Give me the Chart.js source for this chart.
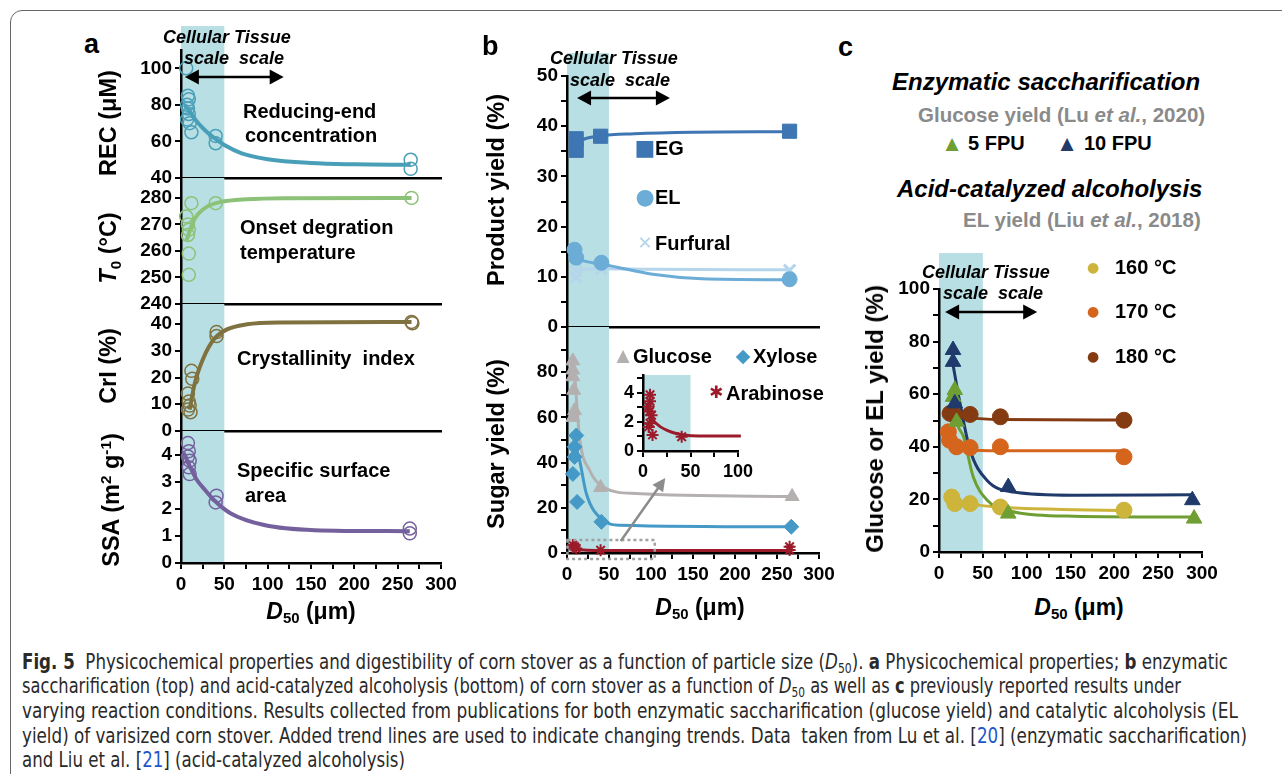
<!DOCTYPE html>
<html>
<head>
<meta charset="utf-8">
<script src="https://cdn.jsdelivr.net/npm/chart.js@4.4.1/dist/chart.umd.min.js"></script>
<style>
body { margin: 0; width: 1282px; height: 774px; overflow: hidden; background: #fff; position: relative;
       font-family: "Liberation Sans", Arial, sans-serif; }
canvas { position: absolute; }
.frame { position: absolute; left: 10px; top: 10px; width: 1320px; height: 820px; border: 1px solid #666; border-radius: 12px; }
.t { position: absolute; white-space: nowrap; line-height: 1; transform: translateY(-50%); font-weight: bold; color: #000; z-index: 5; }
.v { position: absolute; white-space: nowrap; line-height: 1; transform: translate(-50%, -50%) rotate(-90deg); font-weight: bold; font-size: 23.5px; z-index: 5; }
.c { position: absolute; white-space: nowrap; line-height: 1; transform: translate(-50%, -50%); font-family: "DejaVu Sans", sans-serif; z-index: 5; }
.it { font-style: italic; }
.gray { color: #8a8a8a; }
sub { font-size: 0.65em; vertical-align: -0.3em; line-height: 0; }
sup { font-size: 0.65em; vertical-align: 0.55em; line-height: 0; }
.cap { position: absolute; left: 22px; white-space: nowrap; line-height: 1; color: #2a2a2a; font-size: 20.5px;
       font-family: "Liberation Sans Narrow", "DejaVu Sans Condensed", sans-serif; transform-origin: left center; }
.lk { color: #2255cc; }
</style>
</head>
<body>
<div class="frame"></div>

<!-- panel a texts -->
<div class="t" style="left:84px;top:44px;font-size:27px">a</div>
<div class="t it" style="left:163px;top:37px;font-size:18px">Cellular Tissue</div>
<div class="t it" style="left:184px;top:58px;font-size:18px">scale&nbsp; scale</div>
<div class="t" style="left:243px;top:111px;font-size:20px">Reducing-end</div>
<div class="t" style="left:245px;top:135px;font-size:20px">concentration</div>
<div class="t" style="left:240px;top:227px;font-size:20px">Onset degration</div>
<div class="t" style="left:240px;top:252px;font-size:20px">temperature</div>
<div class="t" style="left:237px;top:358px;font-size:20px">Crystallinity&nbsp; index</div>
<div class="t" style="left:237px;top:470px;font-size:20px">Specific surface</div>
<div class="t" style="left:245px;top:495px;font-size:20px">area</div>
<div class="v" style="left:109px;top:123px">REC (μM)</div>
<div class="v" style="left:109px;top:248px"><i>T</i><sub>0</sub> (°C)</div>
<div class="v" style="left:109px;top:366px">CrI (%)</div>
<div class="v" style="left:112px;top:500px">SSA (m<sup>2</sup> g<sup>-1</sup>)</div>
<div class="c" style="left:311px;top:611px;font-size:23px;font-family:'Liberation Sans';font-weight:bold"><i>D</i><sub>50</sub> (μm)</div>

<!-- panel b texts -->
<div class="t" style="left:482px;top:46px;font-size:27px">b</div>
<div class="t it" style="left:550px;top:58px;font-size:18px">Cellular Tissue</div>
<div class="t it" style="left:570px;top:80px;font-size:18px">scale&nbsp; scale</div>
<div class="c" style="left:645px;top:148px;font-size:22px;color:#3e76b3">■</div>
<div class="t" style="left:655px;top:148px;font-size:20px">EG</div>
<div class="c" style="left:645px;top:197px;font-size:22px;color:#6badd6">●</div>
<div class="t" style="left:655px;top:197px;font-size:20px">EL</div>
<div class="c" style="left:645px;top:243px;font-size:18px;color:#b5d5ea;font-weight:bold">✕</div>
<div class="t" style="left:655px;top:243px;font-size:20px">Furfural</div>
<div class="c" style="left:623px;top:355px;font-size:17px;color:#b5b0b0">▲</div>
<div class="t" style="left:633px;top:356px;font-size:20px">Glucose</div>
<div class="c" style="left:743px;top:355px;font-size:19px;color:#4599c6">◆</div>
<div class="t" style="left:753px;top:356px;font-size:20px">Xylose</div>
<div class="c" style="left:716px;top:392px;font-size:17px;color:#9b1b2b">✱</div>
<div class="t" style="left:726px;top:393px;font-size:20px">Arabinose</div>
<div class="v" style="left:497px;top:190px">Product yield (%)</div>
<div class="v" style="left:497px;top:444px">Sugar yield (%)</div>
<div class="c" style="left:700px;top:607px;font-size:23px;font-family:'Liberation Sans';font-weight:bold"><i>D</i><sub>50</sub> (μm)</div>

<!-- panel c texts -->
<div class="t" style="left:838px;top:47px;font-size:27px">c</div>
<div class="t it" style="left:892px;top:82px;font-size:24px">Enzymatic saccharification</div>
<div class="t gray" style="left:918px;top:115px;font-size:20.5px">Glucose yield (Lu <i>et al.</i>, 2020)</div>
<div class="c" style="left:952px;top:143px;font-size:17px;color:#6f9f33">▲</div>
<div class="t" style="left:968px;top:143px;font-size:20px">5 FPU</div>
<div class="c" style="left:1067px;top:143px;font-size:17px;color:#1f3a6b">▲</div>
<div class="t" style="left:1084px;top:143px;font-size:20px">10 FPU</div>
<div class="t it" style="left:897px;top:189px;font-size:24px">Acid-catalyzed alcoholysis</div>
<div class="t gray" style="left:963px;top:220px;font-size:20.5px">EL yield (Liu <i>et al.</i>, 2018)</div>
<div class="c" style="left:1093px;top:267px;font-size:14px;color:#cdb43b">●</div>
<div class="t" style="left:1115px;top:267px;font-size:20px">160 °C</div>
<div class="c" style="left:1093px;top:311px;font-size:14px;color:#d5641d">●</div>
<div class="t" style="left:1115px;top:311px;font-size:20px">170 °C</div>
<div class="c" style="left:1093px;top:356px;font-size:14px;color:#853b12">●</div>
<div class="t" style="left:1115px;top:356px;font-size:20px">180 °C</div>
<div class="t it" style="left:922px;top:272px;font-size:18px">Cellular Tissue</div>
<div class="t it" style="left:943px;top:293px;font-size:18px">scale&nbsp; scale</div>
<div class="v" style="left:875px;top:419px;font-size:24px">Glucose or EL yield (%)</div>
<div class="c" style="left:1079px;top:607px;font-size:23px;font-family:'Liberation Sans';font-weight:bold"><i>D</i><sub>50</sub> (μm)</div>

<!-- caption -->
<div class="cap" data-w="1206" style="top:662px"><b>Fig. 5</b>&nbsp; Physicochemical properties and digestibility of corn stover as a function of particle size (<i>D</i><sub>50</sub>). <b>a</b> Physicochemical properties; <b>b</b> enzymatic</div>
<div class="cap" data-w="1159" style="top:686px">saccharification (top) and acid-catalyzed alcoholysis (bottom) of corn stover as a function of <i>D</i><sub>50</sub> as well as <b>c</b> previously reported results under</div>
<div class="cap" data-w="1216" style="top:711px">varying reaction conditions. Results collected from publications for both enzymatic saccharification (glucose yield) and catalytic alcoholysis (EL</div>
<div class="cap" data-w="1225" style="top:736px">yield) of varisized corn stover. Added trend lines are used to indicate changing trends. Data&nbsp; taken from Lu et al. [<span class="lk">20</span>] (enzymatic saccharification)</div>
<div class="cap" data-w="383" style="top:760px">and Liu et al. [<span class="lk">21</span>] (acid-catalyzed alcoholysis)</div>

<script>
// ---------- data ----------
// panel a: reducing-end concentration
const recD = [6, 8, 9, 7, 8, 9, 7, 10, 12, 40, 40, 265, 265];
const recV = [100, 85, 83, 80, 78, 75, 72, 70, 65, 63, 59, 50, 45];
const recFitD = [4, 10, 18, 28, 38, 50, 70, 100, 150, 200, 265];
const recFitV = [80, 76.5, 71, 66, 62, 58, 53.5, 50.3, 48.2, 47.5, 47.2];
// onset degradation temperature
const t0D = [12, 40, 6, 8, 9, 8, 9, 9, 266];
const t0V = [278, 278, 273, 270, 268, 266, 259, 251, 280];
const t0FitD = [6.5, 10, 14, 20, 30, 45, 76, 120, 266];
const t0FitV = [264, 267.5, 271, 274, 276.7, 278.4, 279.5, 279.9, 280];
// crystallinity index
const criD = [266, 267, 41, 41, 12, 13, 8, 9, 10, 11, 8];
const criV = [40.8, 40.3, 37, 35.5, 22.5, 19.5, 14, 11, 9.5, 7, 8];
const criFitD = [10, 16, 26, 38, 53, 76, 115, 266];
const criFitV = [8, 18, 27.4, 34.3, 38, 39.9, 40.6, 40.8];
// specific surface area
const ssaD = [8, 9, 8, 10, 9, 10, 41, 40, 264, 264];
const ssaV = [4.45, 4.15, 3.95, 3.8, 3.55, 3.3, 2.5, 2.25, 1.28, 1.1];
const ssaFitD = [3, 10, 18, 28, 38, 57, 96, 154, 264];
const ssaFitV = [4.1, 3.6, 3.1, 2.7, 2.34, 1.85, 1.41, 1.22, 1.18];

// panel b top: product yield
const egD = [11, 11, 40, 265];
const egV = [37.5, 35.2, 38, 39];
const egFitD = [8, 12, 20, 40, 80, 150, 265];
const egFitV = [35.5, 36.6, 37.4, 38.1, 38.5, 38.8, 38.9];
const elD = [9, 11, 41, 265];
const elV = [15.4, 13.8, 12.8, 9.5];
const elFitD = [8, 15, 30, 51, 102, 161, 265];
const elFitV = [14.5, 13.5, 12.8, 12.2, 10.5, 9.6, 9.4];
const furD = [11, 11, 41, 265];
const furV = [11.2, 9.9, 11.5, 11.3];
const furFitD = [8, 20, 40, 100, 265];
const furFitV = [11.2, 11.5, 11.6, 11.5, 11.4];
// panel b bottom: sugar yield
const gluD = [7, 7, 7, 8, 9, 7, 40, 268];
const gluV = [85, 81, 78, 72, 63, 60, 29, 25];
const gluFitD = [9, 15, 27, 43, 82, 268];
const gluFitV = [80, 51, 36.5, 29.2, 26.3, 25];
const xylD = [11, 9, 9, 7, 12, 41, 267];
const xylV = [52, 47, 42.5, 35, 22.6, 13.8, 11.6];
const xylFitD = [8, 15, 23, 43, 63, 267];
const xylFitV = [50, 41, 26.3, 14.5, 12.3, 11.6];
const araD = [7, 9, 11, 40, 265, 265];
const araV = [3.5, 2.8, 2, 1.2, 2.8, 1.3];
const araFitD = [5, 20, 40, 265];
const araFitV = [2, 1.3, 1.1, 1.1];
// inset: arabinose
const insD = [7.4, 7.4, 6, 7, 9, 7.4, 6, 10, 40.7];
const insV = [3.85, 3.4, 3.05, 2.7, 2.45, 1.9, 1.65, 1.1, 0.98];
const insFitD = [4, 10, 18, 26, 35, 45, 60, 80, 103];
const insFitV = [2.8, 2.15, 1.67, 1.4, 1.2, 1.08, 1.03, 1.02, 1.02];

// panel c
const fpu10D = [16, 16, 18, 79, 289];
const fpu10V = [76.8, 72.3, 56.5, 24.7, 19.7];
const fpu10FitD = [14.5, 24, 35.5, 54.6, 85, 153, 289];
const fpu10FitV = [74, 56.5, 38.7, 27.3, 22.8, 21.6, 21.8];
const fpu5D = [18, 16, 20, 79, 291];
const fpu5V = [61.6, 59, 49.5, 14.6, 12.7];
const fpu5FitD = [17, 20, 28, 39, 55, 77, 154, 291];
const fpu5FitV = [58, 50, 43.8, 28.6, 19.7, 15.9, 13.6, 13.3];
const t180D = [12.6, 18, 35.5, 70, 211];
const t180V = [52.7, 52, 52.3, 51.4, 50.1];
const t180FitD = [10, 35, 70, 211];
const t180FitV = [52.5, 51, 50.4, 50.2];
const t170D = [10.7, 12, 20, 35.5, 70, 211];
const t170V = [45.7, 42.5, 40, 39.7, 40, 36.2];
const t170FitD = [10, 18, 30, 70, 211];
const t170FitV = [44, 40, 38.8, 38.5, 38.5];
const t160D = [14.5, 18, 35.5, 70, 211];
const t160V = [20.9, 18.4, 18.4, 17.1, 15.9];
const t160FitD = [10, 35, 70, 140, 211];
const t160FitV = [20, 18.3, 17, 16.2, 15.8];

// ---------- setup ----------
Chart.defaults.font.family = '"Liberation Sans", Arial, sans-serif';
Chart.defaults.font.weight = 'bold';
Chart.defaults.font.size = 19;
Chart.defaults.color = '#000';

const BAND = '#b8e0e4';

const pts = (xs, ys) => xs.map((x, i) => ({x: x, y: ys[i]}));

function marks(xs, ys, color, style, r, filled, bw) {
  return {data: pts(xs, ys), showLine: false, pointStyle: style, pointRadius: r, pointHoverRadius: r,
    borderColor: color, backgroundColor: filled ? color : 'rgba(0,0,0,0)',
    pointBorderWidth: bw || 1.5, clip: false};
}
function trend(xs, ys, color, w) {
  return {data: pts(xs, ys), showLine: true, pointRadius: 0, borderColor: color, borderWidth: w,
    cubicInterpolationMode: 'monotone', clip: false};
}

function drawArrow(ctx, x0, y0, x1, y1, color, w, both, L, H) {
  const a = Math.atan2(y1 - y0, x1 - x0), c = Math.cos(a), s = Math.sin(a);
  ctx.save();
  ctx.strokeStyle = color; ctx.fillStyle = color; ctx.lineWidth = w;
  ctx.beginPath();
  ctx.moveTo(both ? x0 + c * L * 0.8 : x0, both ? y0 + s * L * 0.8 : y0);
  ctx.lineTo(x1 - c * L * 0.8, y1 - s * L * 0.8);
  ctx.stroke();
  const head = (tx, ty, cc, ss) => {
    ctx.beginPath();
    ctx.moveTo(tx, ty);
    ctx.lineTo(tx - cc * L - ss * H / 2, ty - ss * L + cc * H / 2);
    ctx.lineTo(tx - cc * L + ss * H / 2, ty - ss * L - cc * H / 2);
    ctx.closePath(); ctx.fill();
  };
  head(x1, y1, c, s);
  if (both) head(x0, y0, -c, -s);
  ctx.restore();
}

// shaded band, scale arrows and the dotted zoom box
const deco = {
  id: 'deco',
  beforeDraw(chart, args, o) {
    if (!o.band) return;
    const {ctx, chartArea: a, scales: {x}} = chart;
    const x0 = x.getPixelForValue(0), x1 = x.getPixelForValue(50);
    ctx.save();
    ctx.fillStyle = BAND;
    ctx.fillRect(x0, a.top - o.bandUp, x1 - x0, a.bottom - a.top + o.bandUp);
    ctx.restore();
  },
  afterDraw(chart, args, o) {
    const {ctx, scales: {x, y}} = chart;
    if (o.scaleArrow) {
      const p = o.scaleArrow;
      drawArrow(ctx, x.getPixelForValue(p[0]), y.getPixelForValue(p[2]),
                x.getPixelForValue(p[1]), y.getPixelForValue(p[2]), '#000', 2.5, true, 14, 15);
    }
    if (o.box) {
      const b = o.box;
      ctx.save();
      ctx.strokeStyle = '#a0a0a0'; ctx.lineWidth = 2.5; ctx.setLineDash([3, 3]);
      const bx0 = x.getPixelForValue(b[0]), bx1 = x.getPixelForValue(b[1]);
      const by0 = y.getPixelForValue(b[2]), by1 = y.getPixelForValue(b[3]);
      ctx.strokeRect(bx0, by0, bx1 - bx0, by1 - by0);
      ctx.restore();
    }
    if (o.pointer) {
      const p = o.pointer;
      drawArrow(ctx, x.getPixelForValue(p[0]), y.getPixelForValue(p[1]),
                x.getPixelForValue(p[2]), y.getPixelForValue(p[3]), '#8c8c8c', 2.5, false, 13, 13);
    }
  }
};

function axisX(min, max, step, every, show, size) {
  return {min: min, max: max, position: 'bottom',
    ticks: {display: show, stepSize: step, autoSkip: false, maxRotation: 0, includeBounds: false, padding: 4,
            font: {size: size || 19}, callback: v => (v % every === 0 ? v : '')},
    grid: {display: show, drawOnChartArea: false, tickLength: 6, color: '#000', lineWidth: 2},
    border: {color: '#000', width: 2.5}};
}
function axisY(min, max, step, labels, size) {
  return {min: min, max: max,
    ticks: {stepSize: step, autoSkip: false, includeBounds: false, padding: 3,
            font: {size: size || 19}, callback: v => (labels.includes(v) ? v : '')},
    grid: {drawOnChartArea: false, tickLength: 6, color: '#000', lineWidth: 2},
    border: {color: '#000', width: 2.5}};
}

// area = plot rectangle on the page, m = room around it inside the canvas
function chartAt(area, m, cfg) {
  const cv = document.createElement('canvas');
  cv.width = area.r - area.l + m.l + m.r;
  cv.height = area.b - area.t + m.t + m.b;
  cv.style.left = (area.l - m.l) + 'px';
  cv.style.top = (area.t - m.t) + 'px';
  document.body.appendChild(cv);
  const fitX = s => { s.height = m.b; s.paddingLeft = 0; s.paddingRight = 0; s.paddingTop = 0; s.paddingBottom = 0; };
  const fitY = s => { s.width = m.l; s.paddingLeft = 0; s.paddingRight = 0; s.paddingTop = 0; s.paddingBottom = 0; };
  return new Chart(cv, {
    type: 'scatter',
    data: {datasets: cfg.datasets},
    options: {
      responsive: false, animation: false, events: [],
      layout: {padding: {left: 0, top: m.t, right: m.r, bottom: 0}},
      plugins: {legend: {display: false}, tooltip: {enabled: false}, deco: cfg.deco || {}},
      scales: {
        x: Object.assign({type: 'linear', afterFit: fitX}, cfg.x),
        y: Object.assign({type: 'linear', afterFit: fitY}, cfg.y)
      }
    },
    plugins: [deco]
  });
}

// ---------- panel a ----------
const aL = 181, aR = 441;
chartAt({l: aL, t: 50, r: aR, b: 178}, {l: 70, t: 30, r: 14, b: 14}, {
  x: axisX(0, 300, 25, 50, false),
  y: axisY(40, 110, 20, [40, 60, 80, 100]),
  deco: {band: true, bandUp: 24, scaleArrow: [4.5, 118.5, 95.2]},
  datasets: [trend(recFitD, recFitV, '#4a9fb8', 4), marks(recD, recV, '#4a9fb8', 'circle', 6.5, false)]
});
chartAt({l: aL, t: 178, r: aR, b: 304}, {l: 70, t: 14, r: 14, b: 14}, {
  x: axisX(0, 300, 25, 50, false),
  y: axisY(240, 287.5, 10, [240, 250, 260, 270, 280]),
  deco: {band: true, bandUp: 0},
  datasets: [trend(t0FitD, t0FitV, '#8cc277', 4), marks(t0D, t0V, '#8cc277', 'circle', 6.5, false)]
});
chartAt({l: aL, t: 304, r: aR, b: 431}, {l: 70, t: 14, r: 14, b: 14}, {
  x: axisX(0, 300, 25, 50, false),
  y: axisY(0, 47.5, 10, [0, 10, 20, 30, 40]),
  deco: {band: true, bandUp: 0},
  datasets: [trend(criFitD, criFitV, '#807240', 4), marks(criD, criV, '#807240', 'circle', 6.5, false)]
});
chartAt({l: aL, t: 431, r: aR, b: 563}, {l: 70, t: 14, r: 26, b: 40}, {
  x: axisX(0, 300, 25, 50, true),
  y: axisY(0, 4.9, 1, [0, 1, 2, 3, 4]),
  deco: {band: true, bandUp: 0},
  datasets: [trend(ssaFitD, ssaFitV, '#75609e', 4), marks(ssaD, ssaV, '#75609e', 'circle', 6.5, false)]
});

// ---------- panel b ----------
const bL = 567, bR = 819;
chartAt({l: bL, t: 76, r: bR, b: 327}, {l: 70, t: 30, r: 14, b: 14}, {
  x: axisX(0, 300, 25, 50, false),
  y: axisY(0, 50, 5, [0, 10, 20, 30, 40, 50]),
  deco: {band: true, bandUp: 23, scaleArrow: [12, 122.5, 45.6]},
  datasets: [
    marks(egD, egV, '#3e76b3', 'rect', 10, true, 1),
    marks(elD, elV, '#6badd6', 'circle', 7.5, true, 1),
    marks(furD, furV, '#b5d5ea', 'crossRot', 8, false, 3),
    trend(egFitD, egFitV, '#3e76b3', 3),
    trend(elFitD, elFitV, '#6badd6', 3),
    trend(furFitD, furFitV, '#b5d5ea', 3)
  ]
});
chartAt({l: bL, t: 327, r: bR, b: 553}, {l: 70, t: 14, r: 26, b: 40}, {
  x: axisX(0, 300, 25, 50, true),
  y: axisY(0, 100, 10, [0, 20, 40, 60, 80]),
  deco: {band: true, bandUp: 0, box: [0.5, 104.5, 5.75, -2.65], pointer: [64, 5.3, 117, 33.2]},
  datasets: [
    marks(araD, araV, '#9b1b2b', 'star', 6, false, 2),
    marks(xylD, xylV, '#4599c6', 'rectRot', 7.5, true, 1),
    marks(gluD, gluV, '#b5b0b0', 'triangle', 8, true, 1),
    trend(araFitD, araFitV, '#9b1b2b', 3),
    trend(xylFitD, xylFitV, '#4599c6', 3),
    trend(gluFitD, gluFitV, '#b5b0b0', 3)
  ]
});
// inset
chartAt({l: 643, t: 375, r: 738, b: 451}, {l: 30, t: 10, r: 22, b: 34}, {
  x: axisX(0, 100, 25, 50, true, 18),
  y: axisY(0, 5.2, 1, [0, 2, 4], 18),
  deco: {band: true, bandUp: 0},
  datasets: [
    marks(insD, insV, '#9b1b2b', 'star', 6, false, 2),
    trend(insFitD, insFitV, '#9b1b2b', 3)
  ]
});

// ---------- panel c ----------
chartAt({l: 939, t: 289, r: 1202, b: 552}, {l: 70, t: 40, r: 26, b: 40}, {
  x: axisX(0, 300, 25, 50, true),
  y: axisY(0, 100, 10, [0, 20, 40, 60, 80, 100]),
  deco: {band: true, bandUp: 36, scaleArrow: [7, 112, 91.3]},
  datasets: [
    marks(fpu10D, fpu10V, '#1f3a6b', 'triangle', 9, true, 1),
    marks(fpu5D, fpu5V, '#6f9f33', 'triangle', 9, true, 1),
    marks(t180D, t180V, '#853b12', 'circle', 8, true, 1),
    marks(t170D, t170V, '#d5641d', 'circle', 8, true, 1),
    marks(t160D, t160V, '#cdb43b', 'circle', 8, true, 1),
    trend(fpu10FitD, fpu10FitV, '#1f3a6b', 3),
    trend(fpu5FitD, fpu5FitV, '#6f9f33', 3),
    trend(t180FitD, t180FitV, '#853b12', 3),
    trend(t170FitD, t170FitV, '#d5641d', 3),
    trend(t160FitD, t160FitV, '#cdb43b', 3)
  ]
});

// caption lines stretched to the widths seen in the figure
document.querySelectorAll('.cap').forEach(el => {
  const w = el.getBoundingClientRect().width;
  el.style.transform = 'translateY(-50%) scaleX(' + (el.dataset.w / w) + ')';
});
</script>
</body>
</html>
